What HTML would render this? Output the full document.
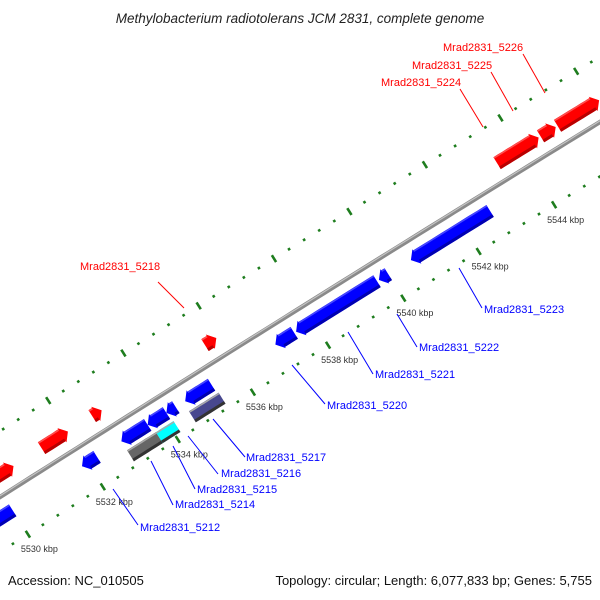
<!DOCTYPE html>
<html><head><meta charset="utf-8"><style>
html,body{margin:0;padding:0;background:#fff;}
svg{display:block;font-family:"Liberation Sans",sans-serif;}
</style></head><body>
<svg id="chart" width="600" height="600" viewBox="0 0 600 600">
<rect width="600" height="600" fill="#fff"/>
<text x="300" y="23" text-anchor="middle" font-size="13.5" font-style="italic" fill="#222">Methylobacterium radiotolerans JCM 2831, complete genome</text>
<g id="ticks"></g>
<g id="backbone"></g>
<g id="genes"></g>
<g id="labels"></g>
<text x="8" y="585" font-size="13" fill="#111">Accession: NC_010505</text>
<text x="592" y="585" font-size="13" fill="#111" text-anchor="end">Topology: circular; Length: 6,077,833 bp; Genes: 5,755</text>
</svg>
<script>
// Gene data (kbp)
const fwdStarts = [5529.0, 5531.3, 5532.65, 5535.65, 5543.4, 5544.55, 5545.0, 5546.3];
const fwdEnds   = [5530.55, 5532.0, 5532.9, 5535.95, 5544.5, 5544.95, 5546.1, 5547.2];
const revStarts = [5528.5, 5531.85, 5532.9, 5533.6, 5534.1, 5534.6, 5537.0, 5537.55, 5539.75, 5540.6];
const revEnds   = [5530.0, 5532.25, 5533.6, 5534.1, 5534.35, 5535.3, 5537.5, 5539.7, 5540.0, 5542.7];
const row2Starts = [5532.9, 5533.67, 5534.55];
const row2Ends   = [5533.67, 5534.14, 5535.34];
const row2Colors = ["#666666", "#00ffff", "#48488f"];
const tickLabelKbp = [5530, 5532, 5534, 5536, 5538, 5540, 5542, 5544];

const NS = "http://www.w3.org/2000/svg";
function mk(tag, attrs, parent){const e=document.createElementNS(NS,tag);for(const k in attrs)e.setAttribute(k,attrs[k]);parent.appendChild(e);return e;}

function circ(p1,p2,p3){
  const ax=p1[0],ay=p1[1],bx=p2[0],by=p2[1],cx=p3[0],cy=p3[1];
  const d=2*(ax*(by-cy)+bx*(cy-ay)+cx*(ay-by));
  const ux=((ax*ax+ay*ay)*(by-cy)+(bx*bx+by*by)*(cy-ay)+(cx*cx+cy*cy)*(ay-by))/d;
  const uy=((ax*ax+ay*ay)*(cx-bx)+(bx*bx+by*by)*(ax-cx)+(cx*cx+cy*cy)*(bx-ax))/d;
  return [ux,uy,Math.hypot(ax-ux,ay-uy)];
}
const C = circ([0,497],[300,308],[600,122]);
const CX=C[0], CY=C[1], R=C[2];
const tA=[29,536], tB=[553,203];
const angA=Math.atan2(tA[1]-CY,tA[0]-CX), angB=Math.atan2(tB[1]-CY,tB[0]-CX);
const innerR=(Math.hypot(tA[0]-CX,tA[1]-CY)+Math.hypot(tB[0]-CX,tB[1]-CY))/2;
const ringD=R-innerR, outerR=R+ringD*1.2;
function ang(k){return angA+(angB-angA)*(k-5530)/14;}
function pt(k,r){const a=ang(k);return [CX+r*Math.cos(a),CY+r*Math.sin(a)];}
const kpp = 14/((angB-angA)*R);

const tg=document.getElementById('ticks');
for(let i=0;i<=52;i++){
  const k=5528+i*0.4; const major=i%5===0;
  [innerR,outerR].forEach(r=>{
    const h=major?4:1.3;
    const p=pt(k,r-h),q=pt(k,r+h);
    const l=mk('line',{x1:p[0],y1:p[1],x2:q[0],y2:q[1],stroke:'#1e7d1e','stroke-width':2.6},tg);
    
    
  });
}
tickLabelKbp.forEach(k=>{
  const p=pt(k,innerR);
  const t=mk('text',{x:p[0]-7,y:p[1]+18,'font-size':9,fill:'#333'},tg);
  t.textContent=k+' kbp';
  
  
});

const bb=document.getElementById('backbone');
let d='';
for(let k=5527;k<=5548;k+=0.25){const p=pt(k,R);d+=(d?'L':'M')+p[0].toFixed(1)+','+p[1].toFixed(1);}
mk('path',{d:d,fill:'none',stroke:'#8a8a8a','stroke-width':4.5},bb);
let d2='';
for(let k=5527;k<=5548;k+=0.25){const p=pt(k,R+1);d2+=(d2?'L':'M')+p[0].toFixed(1)+','+p[1].toFixed(1);}
mk('path',{d:d2,fill:'none',stroke:'#c4c4c4','stroke-width':1.2},bb);

const gg=document.getElementById('genes');
function arc(k1,k2,r){const a=[];const n=8;for(let i=0;i<=n;i++)a.push(pt(k1+(k2-k1)*i/n,r));return a;}
function gene(s,e,rc,h,color,dark,light,dir,name){
  const head=Math.min(7*kpp,(e-s));
  let poly;
  if(dir===0){poly=arc(s,e,rc+h/2).concat(arc(e,s,rc-h/2));}
  else if(dir>0){const hb=e-head;poly=arc(s,hb,rc+h/2).concat([pt(hb,rc+h/2+1.5),pt(e,rc),pt(hb,rc-h/2-1.5)]).concat(arc(hb,s,rc-h/2));}
  else{const hb=s+head;poly=[pt(s,rc),pt(hb,rc+h/2+1.5)].concat(arc(hb,e,rc+h/2)).concat(arc(e,hb,rc-h/2)).concat([pt(hb,rc-h/2-1.5)]);}
  const g=mk('g',{},gg);
  
  
  mk('polygon',{points:poly.map(p=>p[0].toFixed(1)+','+p[1].toFixed(1)).join(' '),fill:color},g);
  const lo=arc(dir<0?s+head:s,dir>0?e-head:e,rc-h/2+1.5);
  mk('polyline',{points:lo.map(p=>p.join(',')).join(' '),fill:'none',stroke:dark,'stroke-width':3},g);
  const hi=arc(dir<0?s+head:s,dir>0?e-head:e,rc+h/2-1);
  mk('polyline',{points:hi.map(p=>p.join(',')).join(' '),fill:'none',stroke:light,'stroke-width':1.5},g);
}
fwdStarts.forEach((s,i)=>gene(s,fwdEnds[i],R+19,14,'#ff0000','#b80000','#ff5050',1,'forward-gene'));
revStarts.forEach((s,i)=>gene(s,revEnds[i],R-18,14,'#0000ff','#0000b0','#4848ff',-1,'reverse-gene'));
row2Starts.forEach((s,i)=>gene(s,row2Ends[i],R-35,13,row2Colors[i],'#333','#aaa',0,'feature-block'));

const lg=document.getElementById('labels');
const labels=[
 ['Mrad2831_5212',140,531,113,489,138,525,'#0000ff'],
 ['Mrad2831_5214',175,508,151,461,173,505,'#0000ff'],
 ['Mrad2831_5215',197,493,173,446,195,489,'#0000ff'],
 ['Mrad2831_5216',221,477,188,436,218,474,'#0000ff'],
 ['Mrad2831_5217',246,461,213,419,245,457,'#0000ff'],
 ['Mrad2831_5220',327,409,292,365,325,404,'#0000ff'],
 ['Mrad2831_5221',375,378,348,332,373,374,'#0000ff'],
 ['Mrad2831_5222',419,351,397,314,417,347,'#0000ff'],
 ['Mrad2831_5223',484,313,459,268,482,308,'#0000ff'],
 ['Mrad2831_5218',80,270,158,282,184,308,'#ff0000'],
 ['Mrad2831_5224',381,86,460,89,483,127,'#ff0000'],
 ['Mrad2831_5225',412,69,491,72,513,111,'#ff0000'],
 ['Mrad2831_5226',443,51,523,54,545,93,'#ff0000']
];
labels.forEach(L=>{
  const ln=mk('line',{x1:L[3],y1:L[4],x2:L[5],y2:L[6],stroke:L[7],'stroke-width':1},lg);
  
  
  const t=mk('text',{x:L[1],y:L[2],'font-size':11,fill:L[7]},lg);
  t.textContent=L[0];
  
  
});
</script>
</body></html>
